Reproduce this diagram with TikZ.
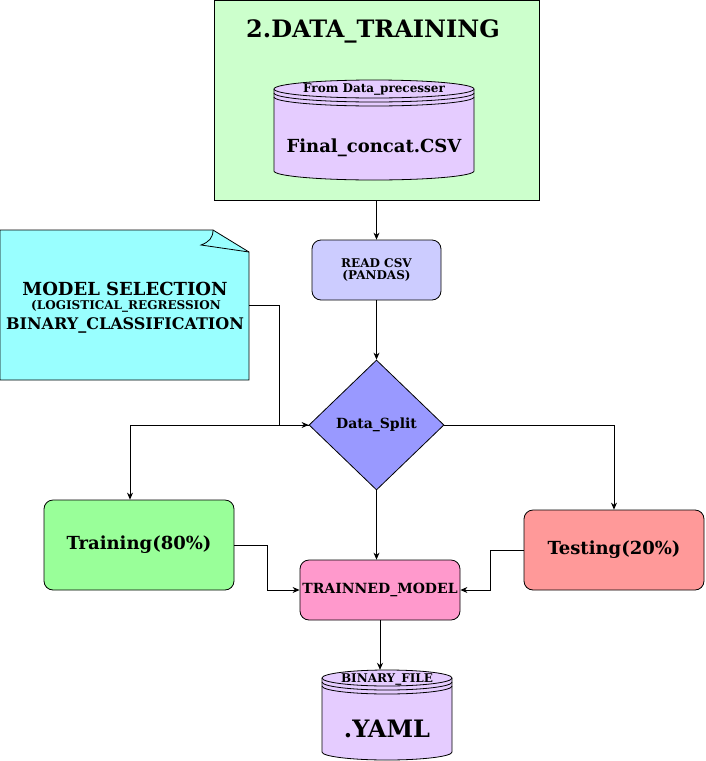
\documentclass[tikz,border=0pt]{standalone}
\usepackage{fontspec}
\setmainfont{DejaVu Serif}
\usetikzlibrary{shapes.geometric,arrows.meta}
\definecolor{grpfill}{HTML}{CCFFCC}
\definecolor{cylfill}{HTML}{E5CCFF}
\definecolor{readfill}{HTML}{CCCCFF}
\definecolor{notefill}{HTML}{99FFFF}
\definecolor{splitfill}{HTML}{9999FF}
\definecolor{trainfill}{HTML}{99FF99}
\definecolor{testfill}{HTML}{FF9999}
\definecolor{tmfill}{HTML}{FF99CC}
\newcommand\fs[1]{\fontsize{#1}{#1}\selectfont}
\newcommand\mycyl[6]{% left right top bottom ry fill
  \pgfmathsetmacro\rx{(#2-#1)/2}
  \filldraw[fill=#6,line width=0.8pt] (#1,#3+#5) -- (#1,#4-#5)
    arc[start angle=180,end angle=360,x radius=\rx pt,y radius=#5pt]
    -- (#2,#3+#5)
    arc[start angle=0,end angle=180,x radius=\rx pt,y radius=#5pt] -- cycle;
  \draw[line width=0.8pt] (#1,#3+#5) arc[start angle=180,end angle=360,x radius=\rx pt,y radius=#5pt];
  \draw[line width=0.8pt] (#1,#3+#5+4) arc[start angle=180,end angle=360,x radius=\rx pt,y radius=#5pt];
  \draw[line width=0.8pt] (#1,#3+#5+8) arc[start angle=180,end angle=360,x radius=\rx pt,y radius=#5pt];
}
\begin{document}
\begin{tikzpicture}[x=1pt,y=-1pt,
  box/.style={draw,line width=0.8pt,rounded corners=9pt,font=\bfseries,align=center,inner sep=0pt},
  arr/.style={-{Stealth[length=7pt,width=6pt]},line width=0.8pt},
  lbl/.style={font=\bfseries,align=center,inner sep=0pt}]
\useasboundingbox (0,0) rectangle (705,761);
% group
\node[draw,fill=grpfill,line width=0.8pt,minimum width=325pt,minimum height=200pt,inner sep=0pt] (grp) at (376.5,100) {};
\node[lbl,font=\bfseries\fs{24}] (title) at (373,31) {2.DATA\_TRAINING};
% cylinder 1
\mycyl{274}{474}{80}{180}{9}{cylfill}
\node[minimum width=200pt,minimum height=100pt,inner sep=0pt] (csv) at (374,130) {};
\node[lbl,font=\bfseries\fs{12}] (csvtop) at (374,90) {From Data\_precesser};
\node[lbl,font=\bfseries\fs{18}] (csvname) at (374,148) {Final\_concat.CSV};
% read csv
\node[box,fill=readfill,minimum width=129pt,minimum height=60pt,font=\bfseries\fs{12}] (read) at (376.5,270) {READ CSV\\(PANDAS)};
% note
\filldraw[fill=notefill,line width=0.8pt] (0,230) -- (213,230) -- (249,252) -- (249,380) -- (0,380) -- cycle;
\draw[line width=0.8pt] (213,230) .. controls (213,238) and (209,242) .. (201,245) -- (249,252);
\node[minimum width=249pt,minimum height=150pt,inner sep=0pt] (note) at (124.5,305) {};
\node[lbl,font=\bfseries\fs{18}] (n1) at (125,289) {MODEL SELECTION};
\node[lbl,font=\bfseries\fs{12}] (n2) at (126,306) {(LOGISTICAL\_REGRESSION};
\node[lbl,font=\bfseries\fs{16}] (n3) at (125,325) {BINARY\_CLASSIFICATION};
% diamond
\node[diamond,draw,fill=splitfill,line width=0.8pt,minimum width=135pt,minimum height=130pt,inner sep=0pt,aspect=1.04,font=\bfseries\fs{14}] (split) at (376.5,425) {\raisebox{-2pt}{Data\_Split}};
% training / testing
\node[box,fill=trainfill,minimum width=190pt,minimum height=90pt,font=\bfseries\fs{18}] (train) at (139,545) {\raisebox{-2pt}{Training(80\%)}};
\node[box,fill=testfill,minimum width=180pt,minimum height=80pt,font=\bfseries\fs{18}] (test) at (614,550) {\raisebox{-2pt}{Testing(20\%)}};
% trained model
\node[box,fill=tmfill,minimum width=160pt,minimum height=60pt,font=\bfseries\fs{14}] (tm) at (380,590) {\raisebox{-1pt}{TRAINNED\_MODEL}};
% cylinder 2
\mycyl{322}{452}{670}{760}{8}{cylfill}
\node[minimum width=130pt,minimum height=90pt,inner sep=0pt] (yaml) at (387,715) {};
\node[lbl,font=\bfseries\fs{12}] (ytop) at (387,680) {BINARY\_FILE};
\node[lbl,font=\bfseries\fs{24}] (yname) at (387,729) {.YAML};
% edges
\draw[arr] (grp.south) -- (read.north);
\draw[arr] (read.south) -- (split.north);
\draw[arr] (note.east) -- ++(30,0) |- (split.west);
\draw[arr] (split.west) -| ([xshift=-9pt]train.north);
\draw[arr] (split.east) -| (test.north);
\draw[arr] (split.south) -- (split.south |- tm.north);
\draw[arr] (train.east) -- ++(33,0) |- (tm.west);
\draw[arr] (test.west) -- ++(-33,0) |- (tm.east);
\draw[arr] (tm.south) -- (tm.south |- yaml.north);
\end{tikzpicture}
\end{document}
